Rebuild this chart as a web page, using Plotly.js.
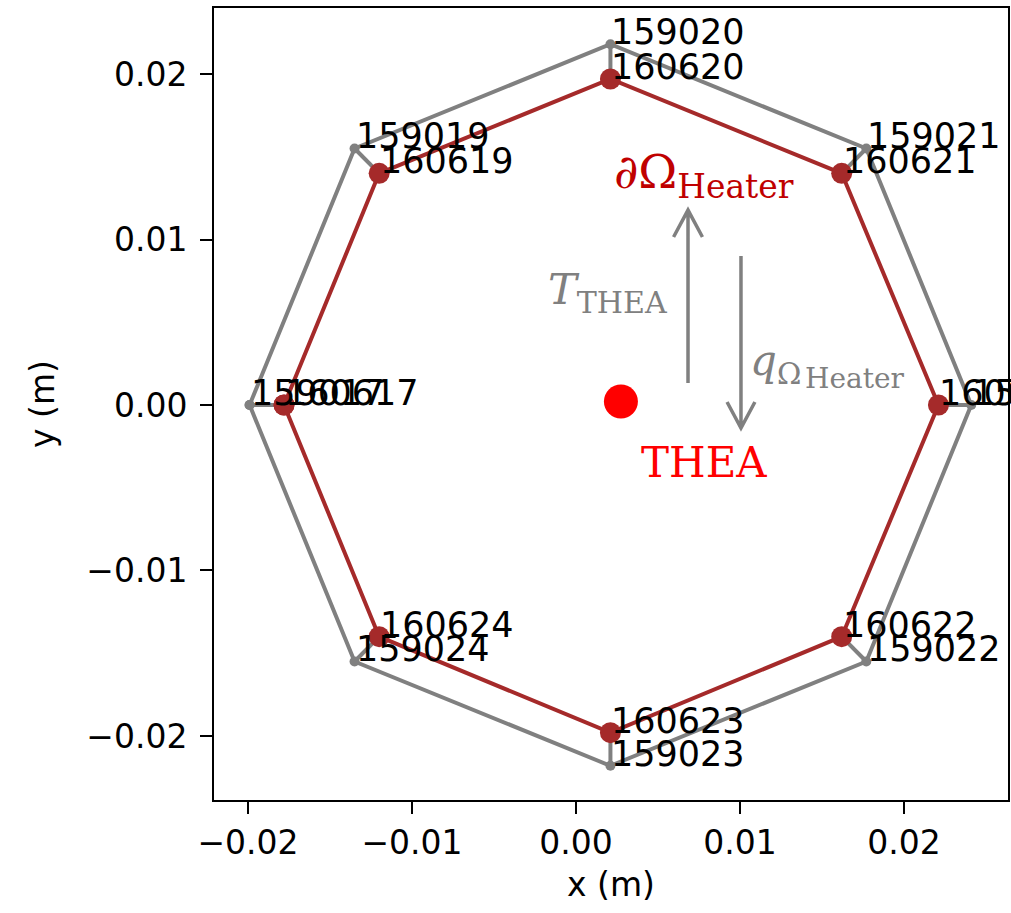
<!DOCTYPE html>
<html>
<head>
<meta charset="utf-8">
<script src="https://cdn.plot.ly/plotly-3.0.1.min.js"></script>
<style>html,body{margin:0;padding:0;background:#fff;}</style>
</head>
<body>
<div id="chart" style="width:1011px;height:913px;"></div>
<script>
// Outer ring nodes (grey), listed in order around the octagon
const outerIds = [159017, 159019, 159020, 159021, 159018, 159022, 159023, 159024];
const outerX = [-0.0199, -0.0135, 0.0021, 0.0177, 0.0241, 0.0177, 0.0021, -0.0135];
const outerY = [0.0, 0.0155, 0.0218, 0.0155, 0.0, -0.0155, -0.0218, -0.0155];

// Heater boundary nodes (dark red), same order
const heaterIds = [160617, 160619, 160620, 160621, 160618, 160622, 160623, 160624];
const heaterX = [-0.0178, -0.0120, 0.0021, 0.0162, 0.0221, 0.0162, 0.0021, -0.0120];
const heaterY = [0.0, 0.0140, 0.0197, 0.0140, 0.0, -0.0140, -0.0198, -0.0140];

// THEA point
const theaX = [0.00274];
const theaY = [0.00021];

// Axis ticks
const tickVals = [-0.02, -0.01, 0, 0.01, 0.02];
const tickText = ['\u22120.02', '\u22120.01', '0.00', '0.01', '0.02'];

const GREY = '#808080';
const HEATER = '#a52a2a';
const close = a => a.concat([a[0]]);

// radial links from every outer node to its heater node
const spokeX = [], spokeY = [];
outerX.forEach((x, i) => { spokeX.push(x, heaterX[i], null); spokeY.push(outerY[i], heaterY[i], null); });

const traces = [
  {x: spokeX, y: spokeY, mode: 'lines', line: {color: GREY, width: 4}, hoverinfo: 'skip'},
  {x: close(outerX), y: close(outerY), mode: 'lines+markers',
   line: {color: GREY, width: 4}, marker: {color: GREY, size: 10}},
  {x: close(heaterX), y: close(heaterY), mode: 'lines+markers',
   line: {color: HEATER, width: 4}, marker: {color: HEATER, size: 21}},
  {x: theaX, y: theaY, mode: 'markers', marker: {color: '#ff0000', size: 34}}
];

const labelFont = {family: 'DejaVu Sans', size: 35, color: '#000'};
const nodeLabel = (id, x, y) => ({
  x: x, y: y, text: String(id), showarrow: false,
  xanchor: 'left', yanchor: 'bottom', xshift: -1, yshift: -10, font: labelFont
});
const annotations = [];
outerIds.forEach((id, i) => annotations.push(nodeLabel(id, outerX[i], outerY[i])));
heaterIds.forEach((id, i) => annotations.push(nodeLabel(id, heaterX[i], heaterY[i])));

const mathFont = (size, color) => ({family: 'DejaVu Serif', size: size, color: color});
annotations.push(
  {x: 0.0022, y: 0.0139, xanchor: 'left', yanchor: 'middle', showarrow: false,
   text: '\u2202\u03a9<sub>Heater</sub>', font: mathFont(47, '#c00000')},
  {x: -0.0018, y: 0.0068, xanchor: 'left', yanchor: 'middle', showarrow: false,
   text: '<i>T</i><sub>THEA</sub>', font: mathFont(43, GREY)},
  {x: 0.0105, y: 0.0025, xanchor: 'left', yanchor: 'middle', showarrow: false,
   text: '<i>q</i><sub>\u03a9</sub>', font: mathFont(42, GREY)},
  {x: 0.01385, y: 0.0016, xanchor: 'left', yanchor: 'middle', showarrow: false,
   text: 'Heater', font: mathFont(28, GREY)},
  {x: 0.0078, y: -0.0035, xanchor: 'center', yanchor: 'middle', showarrow: false,
   text: 'THEA', font: mathFont(42, '#ff0000')}
);

// open-headed arrows between the heater boundary and THEA
const shapes = [
  {type: 'path', xref: 'x', yref: 'y', layer: 'above', line: {color: GREY, width: 3.5},
   path: 'M 0.00683,0.00133 L 0.00683,0.01178 M 0.00595,0.01015 L 0.00683,0.01178 L 0.00771,0.01015'},
  {type: 'path', xref: 'x', yref: 'y', layer: 'above', line: {color: GREY, width: 3.5},
   path: 'M 0.01006,0.00900 L 0.01006,-0.00139 M 0.00921,0.00018 L 0.01006,-0.00139 L 0.01091,0.00018'}
];

const tickFont = {family: 'DejaVu Sans', size: 33, color: '#000'};
const axisBase = {
  tickvals: tickVals, ticktext: tickText, ticks: 'outside', ticklen: 12, tickwidth: 2,
  tickcolor: '#000', showline: true, mirror: true, linecolor: '#000', linewidth: 2,
  showgrid: false, zeroline: false, tickfont: tickFont, automargin: false
};

const layout = {
  width: 1011, height: 913,
  margin: {l: 214, r: 3, t: 8, b: 113},
  paper_bgcolor: '#fff', plot_bgcolor: '#fff',
  showlegend: false,
  xaxis: Object.assign({}, axisBase, {range: [-0.02207, 0.02634],
    title: {text: 'x (m)', font: tickFont, standoff: 12}}),
  yaxis: Object.assign({}, axisBase, {range: [-0.02387, 0.02399], ticklabelstandoff: 6,
    title: {text: 'y (m)', font: tickFont, standoff: 22}}),
  annotations: annotations,
  shapes: shapes
};

Plotly.newPlot('chart', traces, layout, {displayModeBar: false, staticPlot: true});
</script>
</body>
</html>
